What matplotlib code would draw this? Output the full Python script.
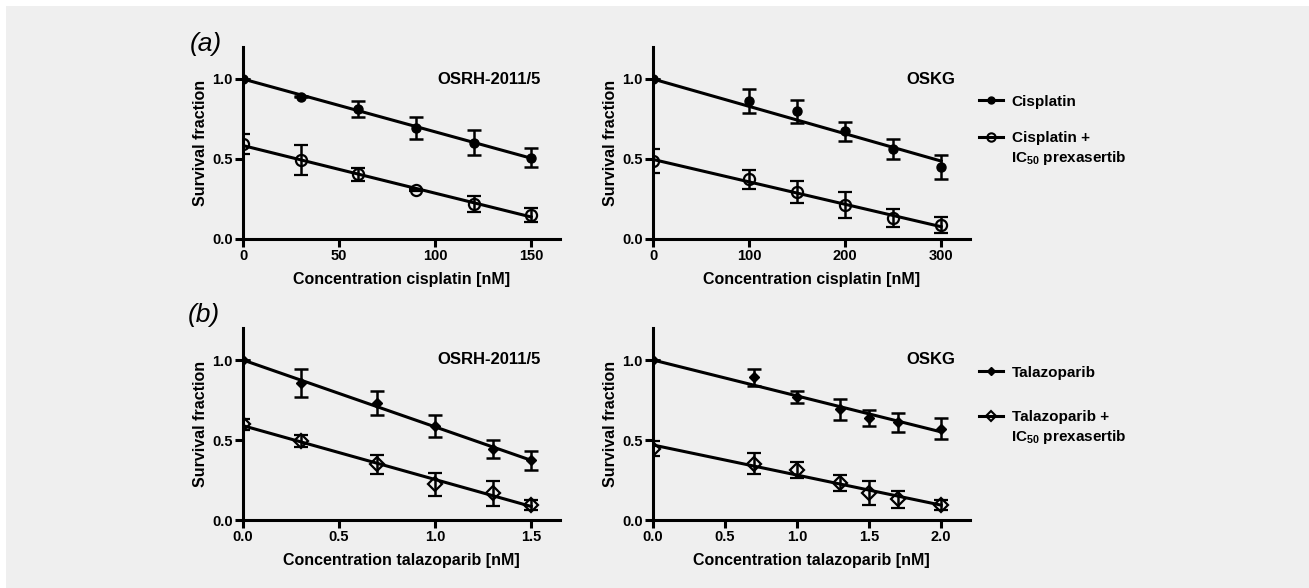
import numpy as np
import matplotlib
matplotlib.use("Agg")
import matplotlib.pyplot as plt
from matplotlib.patches import Rectangle
from matplotlib.lines import Line2D
import matplotlib.transforms as mtransforms

plt.rcParams['font.family'] = ['Liberation Sans', 'DejaVu Sans']
plt.rcParams['font.weight'] = 'bold'
plt.rcParams['axes.labelweight'] = 'bold'
plt.rcParams['mathtext.fontset'] = 'custom'
plt.rcParams['mathtext.rm'] = 'Liberation Sans:bold'
plt.rcParams['mathtext.default'] = 'rm'

# (a) cisplatin
cis_x1 = [0, 30, 60, 90, 120, 150]          # OSRH-2011/5
cis_y1 = [1.0, 0.89, 0.814, 0.694, 0.602, 0.509]
cis_e1 = [0, 0.005, 0.05, 0.066, 0.08, 0.06]
cisp_y1 = [0.592, 0.493, 0.404, 0.306, 0.219, 0.151]
cisp_e1 = [0.062, 0.096, 0.04, 0.005, 0.05, 0.045]

cis_x2 = [0, 100, 150, 200, 250, 300]       # OSKG
cis_y2 = [1.0, 0.861, 0.797, 0.673, 0.561, 0.449]
cis_e2 = [0, 0.075, 0.072, 0.061, 0.062, 0.075]
cisp_y2 = [0.489, 0.373, 0.292, 0.211, 0.13, 0.087]
cisp_e2 = [0.075, 0.06, 0.07, 0.08, 0.058, 0.05]

# (b) talazoparib
tal_x1 = [0, 0.3, 0.7, 1.0, 1.3, 1.5]       # OSRH-2011/5
tal_y1 = [1.0, 0.855, 0.732, 0.587, 0.444, 0.373]
tal_e1 = [0, 0.087, 0.077, 0.07, 0.054, 0.058]
talp_y1 = [0.598, 0.492, 0.349, 0.222, 0.166, 0.095]
talp_e1 = [0.034, 0.038, 0.06, 0.07, 0.08, 0.03]

tal_x2 = [0, 0.7, 1.0, 1.3, 1.5, 1.7, 2.0]  # OSKG
tal_y2 = [1.0, 0.892, 0.768, 0.691, 0.639, 0.612, 0.571]
tal_e2 = [0, 0.054, 0.037, 0.066, 0.05, 0.059, 0.065]
talp_y2 = [0.446, 0.353, 0.315, 0.232, 0.17, 0.129, 0.095]
talp_e2 = [0.045, 0.063, 0.05, 0.052, 0.076, 0.052, 0.03]

cell_lines = ["OSRH-2011/5", "OSKG"]
xlabels = ["Concentration cisplatin [nM]", "Concentration talazoparib [nM]"]
xticks = [[0, 50, 100, 150], [0, 100, 200, 300],
          [0.0, 0.5, 1.0, 1.5], [0.0, 0.5, 1.0, 1.5, 2.0]]
xtick_fmt = ["{:.0f}", "{:.0f}", "{:.1f}", "{:.1f}"]

W, H = 1309, 588
fig = plt.figure(figsize=(W / 100, H / 100), dpi=100, facecolor='white')
fig.add_artist(Rectangle((6 / W, 0), 1 - 6 / W, 1 - 6 / H, transform=fig.transFigure,
                         facecolor='#efefef', edgecolor='none', zorder=-10))

lw = 2.2


def fit_line(ax, x, y, anchored=False):
    # straight-line fit; normalised series are pinned to their value at x=0
    x = np.asarray(x, float)
    y = np.asarray(y, float)
    if anchored:
        k = np.sum(x * (y - y[0])) / np.sum(x * x)
        c = [k, y[0]]
    else:
        c = np.polyfit(x, y, 1)
    xs = np.linspace(0, x.max(), 50)
    ax.plot(xs, np.polyval(c, xs), color='black', lw=lw, zorder=2)


def panel(ax, x, y1, e1, y2, e2, marker, ms, title, tx, xlab, ticks, fmt):
    ax.errorbar(x, y1, yerr=e1, fmt=marker, color='black', ms=ms, mfc='black',
                capsize=5, capthick=1.8, elinewidth=1.8, zorder=3)
    ax.errorbar(x, y2, yerr=e2, fmt=marker, color='black', ms=ms + 1.5, mfc='none',
                mew=1.6, capsize=5, capthick=1.8, elinewidth=1.8, zorder=3)
    fit_line(ax, x, y1, anchored=True)
    fit_line(ax, x, y2)
    ax.set_xlim(0, max(x) * 1.1)
    ax.set_ylim(0, 1.2)
    ax.set_yticks([0, 0.5, 1.0])
    ax.set_yticklabels(["0.0", "0.5", "1.0"])
    ax.set_xticks(ticks)
    ax.set_xticklabels([fmt.format(t) for t in ticks])
    ax.set_facecolor('none')
    for s in ['top', 'right']:
        ax.spines[s].set_visible(False)
    for s in ['left', 'bottom']:
        ax.spines[s].set_linewidth(lw)
    ax.tick_params(width=lw, length=6, labelsize=10.5, pad=1.5)
    ax.set_ylabel("Survival fraction", fontsize=11.5, labelpad=3)
    ax.set_xlabel(xlab, fontsize=11.5, labelpad=6)
    trans = mtransforms.blended_transform_factory(ax.transAxes, ax.transData)
    ax.text(tx, 1.0, title, transform=trans, ha='right', va='center', fontsize=12)


aw, ah = 317 / W, 192 / H
lefts = [243 / W, 653 / W]
bottoms = [1 - 239 / H, 1 - 520 / H]

axes = [fig.add_axes([lefts[c], bottoms[r], aw, ah]) for r in range(2) for c in range(2)]

panel(axes[0], cis_x1, cis_y1, cis_e1, cisp_y1, cisp_e1, 'o', 6.5, cell_lines[0], 0.94,
      xlabels[0], xticks[0], xtick_fmt[0])
panel(axes[1], cis_x2, cis_y2, cis_e2, cisp_y2, cisp_e2, 'o', 6.5, cell_lines[1], 0.953,
      xlabels[0], xticks[1], xtick_fmt[1])
panel(axes[2], tal_x1, tal_y1, tal_e1, talp_y1, talp_e1, 'D', 5.5, cell_lines[0], 0.94,
      xlabels[1], xticks[2], xtick_fmt[2])
panel(axes[3], tal_x2, tal_y2, tal_e2, talp_y2, talp_e2, 'D', 5.5, cell_lines[1], 0.953,
      xlabels[1], xticks[3], xtick_fmt[3])

fig.text(190 / W, 1 - 44 / H, "(a)", fontsize=19, style='italic', weight='normal', va='center')
fig.text(188 / W, 1 - 315 / H, "(b)", fontsize=19, style='italic', weight='normal', va='center')


def legend(marker, ms, labels, ytop, spacing, ysub):
    handles = [Line2D([], [], color='black', lw=lw, marker=marker, ms=ms, mfc='black'),
               Line2D([], [], color='black', lw=lw, marker=marker, ms=ms + 1, mfc='none', mew=1.5)]
    fig.legend(handles, labels, loc='upper left',
               bbox_to_anchor=(965 / W, 1 - ytop / H), frameon=False, fontsize=11,
               handlelength=1.6, handletextpad=0.55, labelspacing=spacing)
    fig.text(1011 / W, 1 - ysub / H, "IC$_{50}$ prexasertib", fontsize=11, va='center')


legend('o', 5, ["Cisplatin", "Cisplatin +"], 81, 1.45, 158)
legend('D', 4.5, ["Talazoparib", "Talazoparib +"], 352, 1.98, 437)

fig.savefig("out.png", dpi=100, facecolor=fig.get_facecolor())
